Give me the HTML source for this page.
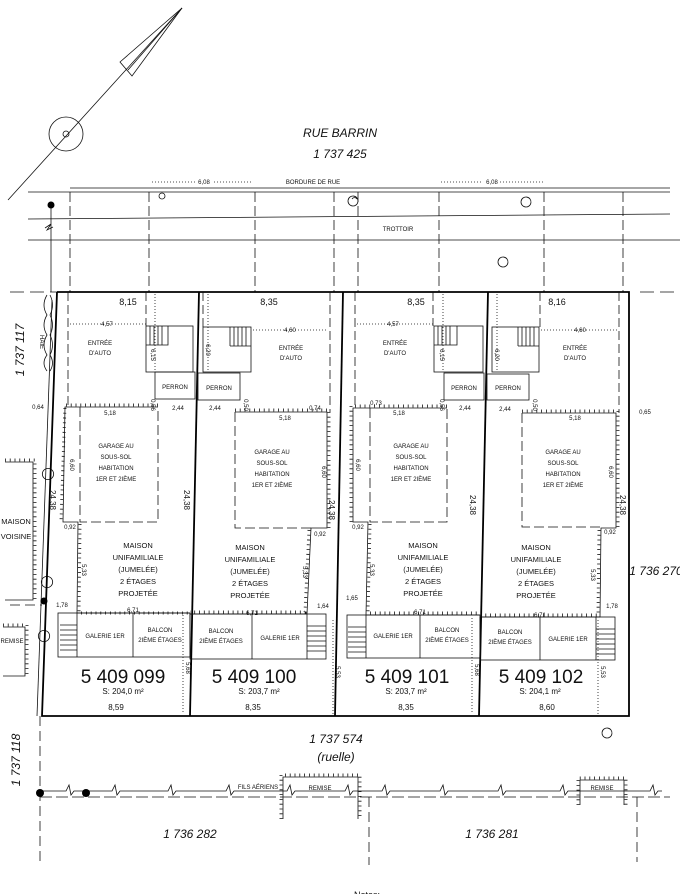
<!DOCTYPE html>
<html><head><meta charset="utf-8"><style>
html,body{margin:0;padding:0;background:#fff;}
svg{display:block;}
text{font-family:"Liberation Sans",sans-serif;fill:#111;}
.s{font-size:6px;}
.m{font-size:7px;}
.i{font-style:italic;}
</style></head><body>
<svg width="680" height="894" viewBox="0 0 680 894" xmlns="http://www.w3.org/2000/svg">
<g fill="none" stroke="#111" stroke-width="0.8">
<!-- north arrow -->
<line x1="8" y1="200" x2="182" y2="8"/>
<circle cx="66" cy="134" r="17"/>
<circle cx="66" cy="134" r="3"/>
<path d="M182 8 L120 62 L132 76 Z"/>
<path d="M182 8 L128 70"/>
<!-- street lines -->
<line x1="70" y1="188" x2="670" y2="188"/>
<line x1="28" y1="192" x2="670" y2="192"/>
<line x1="28" y1="219" x2="670" y2="214"/>
<line x1="28" y1="240" x2="680" y2="240"/>
<g stroke-dasharray="10 4">
<line x1="70" y1="192" x2="70" y2="292"/>
<line x1="149" y1="192" x2="149" y2="292"/>
<line x1="255" y1="192" x2="255" y2="292"/>
<line x1="334" y1="192" x2="334" y2="292"/>
<line x1="358" y1="192" x2="358" y2="292"/>
<line x1="439" y1="192" x2="439" y2="292"/>
<line x1="544" y1="192" x2="544" y2="292"/>
<line x1="623" y1="192" x2="623" y2="292"/>
</g>
<g stroke-dasharray="1 2">
<line x1="152" y1="182" x2="196" y2="182"/><line x1="214" y1="182" x2="253" y2="182"/>
<line x1="441" y1="182" x2="483" y2="182"/><line x1="500" y1="182" x2="543" y2="182"/>
</g>
<circle cx="162" cy="196" r="3"/>
<path d="M350 197 a4 4 0 1 1 6 8 a4 4 0 1 1 -6 -8 z M352 199 a3 3 0 0 1 5 0"/>
<path d="M523 198 a4 4 0 1 1 6 8 a4 4 0 1 1 -6 -8 z"/>
<path d="M500 258 a4 4 0 1 1 6 8 a4 4 0 1 1 -6 -8 z"/>
<path d="M604 729 a4 4 0 1 1 6 8 a4 4 0 1 1 -6 -8 z"/>
<!-- left pole -->
<line x1="51" y1="205" x2="51" y2="292"/>
<path d="M45 228 l6 -4 l-4 6 l6 -3"/>
<!-- top dashed line -->
<line x1="10" y1="292" x2="57" y2="292" stroke-dasharray="14 6"/>
<line x1="640" y1="292" x2="680" y2="292" stroke-dasharray="14 6"/>
<!-- hedge -->
<path d="M47 295 q-6 10 0 20 q-6 10 0 20 q-6 10 0 20 q-6 8 0 16 M50 295 q5 10 0 20 q5 10 0 20 q5 10 0 20 q5 8 0 16"/>
<!-- fence along left line -->
<path d="M52 300 L37 716"/>
<path d="M44 470 a5 5 0 1 1 8 8 a5 5 0 1 1 -8 -8 z M43 578 a5 5 0 1 1 8 8 a5 5 0 1 1 -8 -8z M40 632 a5 5 0 1 1 8 8 a5 5 0 1 1 -8 -8z"/>
</g>
<!-- bold lot lines -->
<g fill="none" stroke="#000" stroke-width="1.8">
<polyline points="57,292 629,292 629,716 42,716 57,292"/>
<line x1="199" y1="292" x2="190" y2="716"/>
<line x1="343" y1="292" x2="335" y2="716"/>
<line x1="488" y1="292" x2="479" y2="716"/>
</g>
<g fill="none" stroke="#111" stroke-width="0.8">
<!-- entree dashed -->
<g stroke-dasharray="9 4">
<line x1="68" y1="292" x2="68" y2="407"/><line x1="146" y1="292" x2="146" y2="326"/>
<line x1="203" y1="292" x2="203" y2="327"/><line x1="330" y1="292" x2="330" y2="412"/>
<line x1="355" y1="292" x2="355" y2="408"/><line x1="433" y1="292" x2="433" y2="326"/>
<line x1="540" y1="292" x2="540" y2="327"/><line x1="619" y1="292" x2="619" y2="413"/>
</g>
<g stroke-dasharray="1 2">
<line x1="70" y1="324" x2="146" y2="324"/><line x1="253" y1="330" x2="328" y2="330"/>
<line x1="357" y1="324" x2="433" y2="324"/><line x1="541" y1="330" x2="617" y2="330"/>
<line x1="155" y1="294" x2="155" y2="372"/><line x1="208" y1="294" x2="208" y2="372"/>
<line x1="443" y1="294" x2="443" y2="372"/><line x1="497" y1="294" x2="497" y2="372"/>
<line x1="183" y1="615" x2="183" y2="714"/><line x1="333" y1="620" x2="333" y2="714"/>
<line x1="472" y1="618" x2="472" y2="714"/><line x1="598" y1="620" x2="598" y2="714"/>
</g>
<!-- stairs & perrons -->
<rect x="146" y="326" width="47" height="46"/><rect x="155" y="372" width="40" height="27"/>
<path d="M146 345 H168 V326 M150 326 V345 M154 326 V345 M158 326 V345 M162 326 V345"/>
<rect x="203" y="327" width="48" height="45"/><rect x="198" y="373" width="42" height="27"/>
<path d="M230 346 H251 M230 327 V346 M234 327 V346 M238 327 V346 M242 327 V346 M246 327 V346"/>
<rect x="434" y="326" width="49" height="46"/><rect x="444" y="373" width="40" height="27"/>
<path d="M434 345 H457 V326 M438 326 V345 M442 326 V345 M446 326 V345 M450 326 V345"/>
<rect x="492" y="327" width="47" height="45"/><rect x="487" y="374" width="42" height="26"/>
<path d="M518 346 H539 M518 327 V346 M522 327 V346 M526 327 V346 M530 327 V346 M534 327 V346"/>
<!-- garages dashed -->
<g stroke-dasharray="10 4">
<path d="M80 407 V522 H158 V407"/>
<path d="M235 412 V528 H313"/>
<path d="M370 408 V522 H447 V408"/>
<path d="M522 413 V527 H602"/>
</g>
<!-- galeries -->
<rect x="58" y="613" width="132" height="44"/><line x1="77" y1="613" x2="77" y2="657"/><line x1="133" y1="613" x2="133" y2="657"/>
<path d="M60 625 H77 M60 630 H77 M60 635 H77 M60 640 H77 M60 645 H77 M60 650 H77"/>
<rect x="190" y="614" width="136" height="45"/><line x1="252" y1="614" x2="252" y2="659"/><line x1="307" y1="614" x2="307" y2="659"/>
<path d="M307 626 H326 M307 631 H326 M307 636 H326 M307 641 H326 M307 646 H326 M307 651 H326"/>
<rect x="347" y="615" width="133" height="43"/><line x1="366" y1="615" x2="366" y2="658"/><line x1="420" y1="615" x2="420" y2="658"/>
<path d="M348 627 H366 M348 632 H366 M348 637 H366 M348 642 H366 M348 647 H366 M348 652 H366"/>
<rect x="480" y="617" width="135" height="43"/><line x1="540" y1="617" x2="540" y2="660"/><line x1="596" y1="617" x2="596" y2="660"/>
<path d="M596 629 H615 M596 634 H615 M596 639 H615 M596 644 H615 M596 649 H615 M596 654 H615"/>
</g>
<!-- hatched walls -->
<g fill="none" stroke="#111">
<g stroke-width="0.8">
<path d="M158 407 H65 L63 522 H78 L77 613 H190"/>
<path d="M235 412 H327 V528 H311 L307 614 H190"/>
<path d="M447 408 H353 V522 H368 L366 615 H480"/>
<path d="M522 413 H616 V528 H601 L600 617 H480"/>
<path d="M5 462 H33 V600 H5 M3 627 H25 V676 H3"/>
<path d="M283 819 V777 H358 V819 M580 805 V780 H624 V805"/>
</g>
<g stroke-width="3" stroke-dasharray="0.8 4">
<path d="M158 405 H65 L61 522 M80 524 L79 613 H190"/>
<path d="M235 410 H329 V528 M309 530 L305 612 H190"/>
<path d="M447 406 H351 V522 M370 524 L368 613 H480"/>
<path d="M522 411 H618 V528 M599 530 L598 615 H480"/>
<path d="M5 460 H35 V600 M3 625 H27 V676"/>
<path d="M281 819 V775 H360 V819 M578 805 V778 H626 V805"/>
</g>
</g>
<!-- ruelle fences -->
<g fill="none" stroke="#111" stroke-width="0.8">
<line x1="40" y1="716" x2="40" y2="865" stroke-dasharray="10 5"/>
<line x1="40" y1="797" x2="670" y2="797" stroke-dasharray="12 4"/>
<path d="M40 791 H66 l3 -6 l2 10 l3 -4 H112 l3 -6 l2 10 l3 -4 H168 l3 -6 l2 10 l3 -4 H226 l3 -6 l2 10 l3 -4 H287 l3 -6 l2 10 l3 -4 H345 l3 -6 l2 10 l3 -4 H382 l3 -6 l2 10 l3 -4 H440 l3 -6 l2 10 l3 -4 H498 l3 -6 l2 10 l3 -4 H560 l3 -6 l2 10 l3 -4 H650 l3 -6 l2 10 l3 -4 H662"/>
<line x1="369" y1="797" x2="369" y2="865" stroke-dasharray="10 5"/>
<line x1="637" y1="797" x2="637" y2="862" stroke-dasharray="10 5"/>
<line x1="10" y1="605" x2="42" y2="605" stroke-dasharray="10 5"/>
</g>
<g fill="#000"><circle cx="51" cy="205" r="3.5"/><circle cx="44" cy="601" r="3.5"/><circle cx="40" cy="793" r="4"/><circle cx="86" cy="793" r="4"/></g>

<!-- texts -->
<text x="340" y="137" font-size="12" class="i" text-anchor="middle">RUE BARRIN</text>
<text x="340" y="158" font-size="12" class="i" text-anchor="middle">1 737 425</text>
<text x="313" y="184" class="s" text-anchor="middle">BORDURE DE RUE</text>
<text x="204" y="184" class="s" text-anchor="middle">6,08</text>
<text x="492" y="184" class="s" text-anchor="middle">6,08</text>
<text x="398" y="231" class="s" text-anchor="middle">TROTTOIR</text>
<text x="128" y="305" font-size="9" text-anchor="middle">8,15</text>
<text x="269" y="305" font-size="9" text-anchor="middle">8,35</text>
<text x="416" y="305" font-size="9" text-anchor="middle">8,35</text>
<text x="557" y="305" font-size="9" text-anchor="middle">8,16</text>
<g class="s" text-anchor="middle">
<text x="107" y="326">4,57</text><text x="290" y="332">4,60</text><text x="393" y="326">4,57</text><text x="580" y="332">4,60</text>
<text x="100" y="345">ENTRÉE</text><text x="100" y="355">D'AUTO</text>
<text x="291" y="350">ENTRÉE</text><text x="291" y="360">D'AUTO</text>
<text x="395" y="345">ENTRÉE</text><text x="395" y="355">D'AUTO</text>
<text x="575" y="350">ENTRÉE</text><text x="575" y="360">D'AUTO</text>
<text x="175" y="389">PERRON</text><text x="219" y="390">PERRON</text>
<text x="464" y="390">PERRON</text><text x="508" y="390">PERRON</text>
<text x="178" y="410">2,44</text><text x="215" y="410">2,44</text><text x="465" y="410">2,44</text><text x="505" y="411">2,44</text>
<text x="110" y="415">5,18</text><text x="285" y="420">5,18</text><text x="399" y="415">5,18</text><text x="575" y="420">5,18</text>
<text x="38" y="409">0,64</text><text x="315" y="410">0,74</text><text x="376" y="405">0,73</text><text x="645" y="414">0,65</text>
<text x="70" y="529">0,92</text><text x="320" y="536">0,92</text><text x="358" y="529">0,92</text><text x="610" y="534">0,92</text>
<text x="62" y="607">1,78</text><text x="323" y="608">1,64</text><text x="352" y="600">1,65</text><text x="612" y="608">1,78</text>
<text x="133" y="612">6,71</text><text x="252" y="615">6,71</text><text x="420" y="614">6,71</text><text x="540" y="617">6,71</text>
<text x="116" y="448">GARAGE AU</text><text x="116" y="459">SOUS-SOL</text><text x="116" y="470">HABITATION</text><text x="116" y="481">1ER ET 2IÈME</text>
<text x="272" y="454">GARAGE AU</text><text x="272" y="465">SOUS-SOL</text><text x="272" y="476">HABITATION</text><text x="272" y="487">1ER ET 2IÈME</text>
<text x="411" y="448">GARAGE AU</text><text x="411" y="459">SOUS-SOL</text><text x="411" y="470">HABITATION</text><text x="411" y="481">1ER ET 2IÈME</text>
<text x="563" y="454">GARAGE AU</text><text x="563" y="465">SOUS-SOL</text><text x="563" y="476">HABITATION</text><text x="563" y="487">1ER ET 2IÈME</text>
<text x="105" y="638">GALERIE 1ER</text><text x="160" y="632">BALCON</text><text x="160" y="642">2IÈME ÉTAGES</text>
<text x="221" y="633">BALCON</text><text x="221" y="643">2IÈME ÉTAGES</text><text x="280" y="640">GALERIE 1ER</text>
<text x="393" y="638">GALERIE 1ER</text><text x="447" y="632">BALCON</text><text x="447" y="642">2IÈME ÉTAGES</text>
<text x="510" y="634">BALCON</text><text x="510" y="644">2IÈME ÉTAGES</text><text x="568" y="641">GALERIE 1ER</text>
<text x="12" y="643">REMISE</text><text x="320" y="790">REMISE</text><text x="602" y="790">REMISE</text>
<text x="258" y="789">FILS AÉRIENS</text>
</g>
<g font-size="7.5" text-anchor="middle">
<text x="138" y="548">MAISON</text><text x="138" y="560">UNIFAMILIALE</text><text x="138" y="572">(JUMELÉE)</text><text x="138" y="584">2 ÉTAGES</text><text x="138" y="596">PROJETÉE</text>
<text x="250" y="550">MAISON</text><text x="250" y="562">UNIFAMILIALE</text><text x="250" y="574">(JUMELÉE)</text><text x="250" y="586">2 ÉTAGES</text><text x="250" y="598">PROJETÉE</text>
<text x="423" y="548">MAISON</text><text x="423" y="560">UNIFAMILIALE</text><text x="423" y="572">(JUMELÉE)</text><text x="423" y="584">2 ÉTAGES</text><text x="423" y="596">PROJETÉE</text>
<text x="536" y="550">MAISON</text><text x="536" y="562">UNIFAMILIALE</text><text x="536" y="574">(JUMELÉE)</text><text x="536" y="586">2 ÉTAGES</text><text x="536" y="598">PROJETÉE</text>
<text x="16" y="524">MAISON</text><text x="16" y="539">VOISINE</text>
</g>
<g text-anchor="middle">
<text x="123" y="683" font-size="19">5 409 099</text><text x="254" y="683" font-size="19">5 409 100</text>
<text x="407" y="683" font-size="19">5 409 101</text><text x="541" y="683" font-size="19">5 409 102</text>
<text x="123" y="694" font-size="8">S: 204,0 m²</text><text x="259" y="694" font-size="8">S: 203,7 m²</text>
<text x="406" y="694" font-size="8">S: 203,7 m²</text><text x="540" y="694" font-size="8">S: 204,1 m²</text>
<text x="116" y="710" font-size="8">8,59</text><text x="253" y="710" font-size="8">8,35</text>
<text x="406" y="710" font-size="8">8,35</text><text x="547" y="710" font-size="8">8,60</text>
<text x="336" y="743" font-size="12" class="i">1 737 574</text><text x="336" y="761" font-size="12" class="i">(ruelle)</text>
<text x="190" y="838" font-size="12" class="i">1 736 282</text><text x="492" y="838" font-size="12" class="i">1 736 281</text>
<text x="656" y="575" font-size="12" class="i">1 736 270</text>
<text x="367" y="898" font-size="9">Notes:</text>
</g>
<!-- rotated labels -->
<g text-anchor="middle">
<text transform="translate(24,350) rotate(-90)" font-size="12" class="i">1 737 117</text>
<text transform="translate(20,760) rotate(-90)" font-size="12" class="i">1 737 118</text>
<text transform="translate(40,342) rotate(90)" class="s">HAIE</text>
<text transform="translate(50,500) rotate(90)" font-size="8">24,38</text>
<text transform="translate(184,500) rotate(90)" font-size="8">24,38</text>
<text transform="translate(329,510) rotate(90)" font-size="8">24,38</text>
<text transform="translate(470,505) rotate(90)" font-size="8">24,38</text>
<text transform="translate(620,505) rotate(90)" font-size="8">24,38</text>
<text transform="translate(151,355) rotate(90)" class="s">6,15</text>
<text transform="translate(206,350) rotate(90)" class="s">6,20</text>
<text transform="translate(440,355) rotate(90)" class="s">6,15</text>
<text transform="translate(495,355) rotate(90)" class="s">6,20</text>
<text transform="translate(70,465) rotate(90)" class="s">6,60</text>
<text transform="translate(322,472) rotate(90)" class="s">6,60</text>
<text transform="translate(356,465) rotate(90)" class="s">6,60</text>
<text transform="translate(609,472) rotate(90)" class="s">6,60</text>
<text transform="translate(82,570) rotate(90)" class="s">5,33</text>
<text transform="translate(303,572) rotate(90)" class="s">5,33</text>
<text transform="translate(370,570) rotate(90)" class="s">5,33</text>
<text transform="translate(591,575) rotate(90)" class="s">5,33</text>
<text transform="translate(186,668) rotate(90)" class="s">5,68</text>
<text transform="translate(336,672) rotate(90)" class="s">5,53</text>
<text transform="translate(475,670) rotate(90)" class="s">5,68</text>
<text transform="translate(601,672) rotate(90)" class="s">5,53</text>
<text transform="translate(151,405) rotate(90)" class="s">0,56</text>
<text transform="translate(244,405) rotate(90)" class="s">0,50</text>
<text transform="translate(440,405) rotate(90)" class="s">0,56</text>
<text transform="translate(533,405) rotate(90)" class="s">0,50</text>
</g>
</svg>
</body></html>
